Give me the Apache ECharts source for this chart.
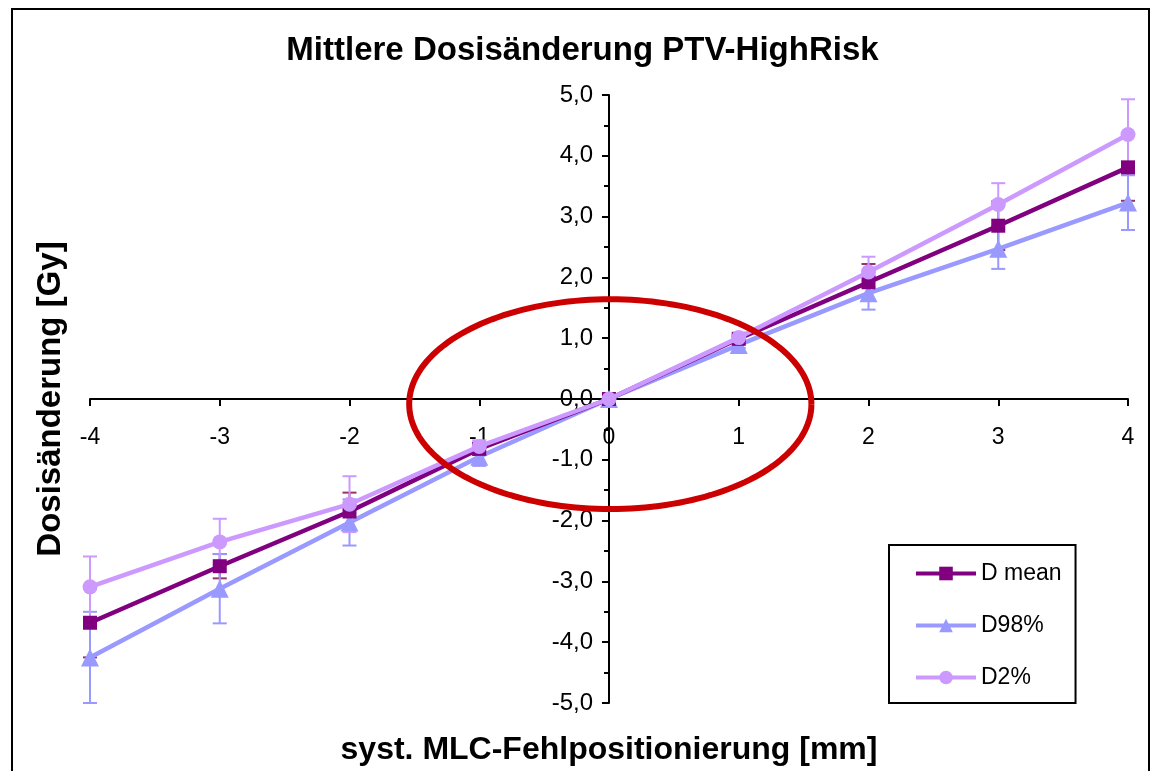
<!DOCTYPE html>
<html>
<head>
<meta charset="utf-8">
<script src="https://cdn.jsdelivr.net/npm/echarts@6/dist/echarts.min.js"></script>
<style>
html,body{margin:0;padding:0;background:#fff;}
#chart{width:1165px;height:771px;}
</style>
</head>
<body>
<div id="chart"></div>
<script>
// ---- data ----
var xValues = [-4, -3, -2, -1, 0, 1, 2, 3, 4];
var dMean = [-3.68, -2.75, -1.85, -0.82, 0, 0.99, 1.92, 2.85, 3.81];
var dMeanErr = [0.57, 0.2, 0.31, 0.1, 0, 0.05, 0.3, 0.4, 0.55];
var d98 = [-4.25, -3.12, -2.03, -0.95, 0, 0.89, 1.74, 2.47, 3.23];
var d98Err = [0.75, 0.57, 0.38, 0.15, 0, 0.05, 0.27, 0.33, 0.45];
var d2 = [-3.09, -2.35, -1.73, -0.78, 0, 1.01, 2.09, 3.2, 4.35];
var d2Err = [0.5, 0.38, 0.46, 0.1, 0, 0.05, 0.25, 0.35, 0.58];
var seriesNames = ['D mean', 'D98%', 'D2%'];
// highlighted region (ellipse annotation), in data units
var ellipseCenter = [0.01, -0.085];
var ellipseRadii = [1.55, 1.725];

var FONT = '"Liberation Sans", Arial, sans-serif';
var colMean = '#800080', colMeanErr = '#993366';
var col98 = '#9999FF', col2 = '#CC99FF';

function pairs(ys) { return xValues.map(function (x, i) { return [x, ys[i]]; }); }
function errData(ys, es) { return xValues.map(function (x, i) { return [x, ys[i] - es[i], ys[i] + es[i]]; }); }

function errSeries(ys, es, color) {
  return {
    type: 'custom',
    data: errData(ys, es),
    z: 1,
    silent: true,
    renderItem: function (params, api) {
      var x = api.value(0);
      var lo = api.coord([x, api.value(1)]);
      var hi = api.coord([x, api.value(2)]);
      var hw = 7;
      if (Math.abs(lo[1] - hi[1]) < 1) return null;
      var st = { stroke: color, lineWidth: 2 };
      return {
        type: 'group',
        children: [
          { type: 'line', shape: { x1: lo[0], y1: lo[1], x2: hi[0], y2: hi[1] }, style: st },
          { type: 'line', shape: { x1: lo[0] - hw, y1: lo[1], x2: lo[0] + hw, y2: lo[1] }, style: st },
          { type: 'line', shape: { x1: hi[0] - hw, y1: hi[1], x2: hi[0] + hw, y2: hi[1] }, style: st }
        ]
      };
    }
  };
}

var chart = echarts.init(document.getElementById('chart'));
var labelFmt = function (v) { return v.toFixed(1).replace('.', ','); };

// grid layout (pixels); axes crossing at the data origin
var gridLeft = 90, gridRight = 37, gridTop = 95, gridBottom = 68;
var plotW = 1165 - gridLeft - gridRight, plotH = 771 - gridTop - gridBottom;
var xMin = -4, xMax = 4, yMin = -5, yMax = 5;
// distance from grid edge to the zero line (positioning only)
var xAxisOffset = -plotH * (0 - yMin) / (yMax - yMin);
var yAxisOffset = -plotW * (0 - xMin) / (xMax - xMin);

chart.setOption({
  backgroundColor: '#fff',
  animation: false,
  title: {
    text: 'Mittlere Dosisänderung PTV-HighRisk',
    left: 'center',
    top: 29,
    textStyle: { fontFamily: FONT, fontWeight: 'bold', fontSize: 33, color: '#000' }
  },
  graphic: [{
    type: 'rect',
    shape: { x: 12, y: 9, width: 1137, height: 800 },
    style: { fill: 'none', stroke: '#000', lineWidth: 2 },
    z: -1
  }],
  legend: {
    orient: 'vertical',
    left: 889,
    top: 545,
    data: seriesNames,
    itemWidth: 60,
    itemHeight: 17,
    itemGap: 29,
    padding: [17, 14, 14, 25],
    borderColor: '#000',
    borderWidth: 2,
    backgroundColor: '#fff',
    lineStyle: { width: 4 },
    textStyle: { fontFamily: FONT, fontSize: 23, color: '#000' }
  },
  grid: { left: gridLeft, right: gridRight, top: gridTop, bottom: gridBottom, containLabel: false, outerBoundsMode: 'none' },
  xAxis: {
    type: 'value',
    min: xMin, max: xMax, interval: 1,
    offset: xAxisOffset,
    name: 'syst. MLC-Fehlpositionierung [mm]',
    nameLocation: 'middle',
    nameGap: 335,
    nameTextStyle: { fontFamily: FONT, fontWeight: 'bold', fontSize: 32, color: '#000' },
    axisLine: { onZero: false, lineStyle: { color: '#000', width: 2 } },
    axisTick: { inside: false, length: 7, lineStyle: { color: '#000', width: 2 } },
    axisLabel: { margin: 27, fontFamily: FONT, fontSize: 23, color: '#000' },
    splitLine: { show: false }
  },
  yAxis: {
    type: 'value',
    min: yMin, max: yMax, interval: 1,
    offset: yAxisOffset,
    name: 'Dosisänderung [Gy]',
    nameLocation: 'middle',
    nameRotate: 90,
    nameGap: 542,
    nameTextStyle: { fontFamily: FONT, fontWeight: 'bold', fontSize: 33, color: '#000' },
    axisLine: { onZero: false, lineStyle: { color: '#000', width: 2 } },
    axisTick: { length: 7, lineStyle: { color: '#000', width: 2 } },
    minorTick: { show: true, splitNumber: 2, length: 5, lineStyle: { color: '#000', width: 2 } },
    axisLabel: { margin: 16, fontFamily: FONT, fontSize: 24, color: '#000', formatter: labelFmt },
    splitLine: { show: false },
    minorSplitLine: { show: false }
  },
  series: [
    errSeries(dMean, dMeanErr, colMeanErr),
    errSeries(d98, d98Err, col98),
    errSeries(d2, d2Err, col2),
    {
      name: 'D mean', type: 'line', data: pairs(dMean), z: 4,
      symbol: 'rect', symbolSize: 14,
      lineStyle: { color: colMean, width: 4.5 },
      itemStyle: { color: colMean }
    },
    {
      name: 'D98%', type: 'line', data: pairs(d98), z: 3,
      symbol: 'triangle', symbolSize: 18,
      lineStyle: { color: col98, width: 4.5 },
      itemStyle: { color: col98 }
    },
    {
      name: 'D2%', type: 'line', data: pairs(d2), z: 5,
      symbol: 'circle', symbolSize: 15,
      lineStyle: { color: col2, width: 4.5 },
      itemStyle: { color: col2 }
    },
    {
      type: 'custom',
      silent: true,
      z: 10,
      data: [[ellipseCenter[0], ellipseCenter[1], ellipseRadii[0], ellipseRadii[1]]],
      renderItem: function (params, api) {
        var c = api.coord([api.value(0), api.value(1)]);
        var sz = api.size([api.value(2), api.value(3)]);
        var pts = [];
        for (var k = 0; k <= 180; k++) {
          var a = k / 180 * Math.PI * 2;
          pts.push([c[0] + sz[0] * Math.cos(a), c[1] + sz[1] * Math.sin(a)]);
        }
        return { type: 'polyline', shape: { points: pts }, style: { stroke: '#CC0000', lineWidth: 6, fill: 'none' } };
      }
    }
  ]
});
</script>
</body>
</html>
